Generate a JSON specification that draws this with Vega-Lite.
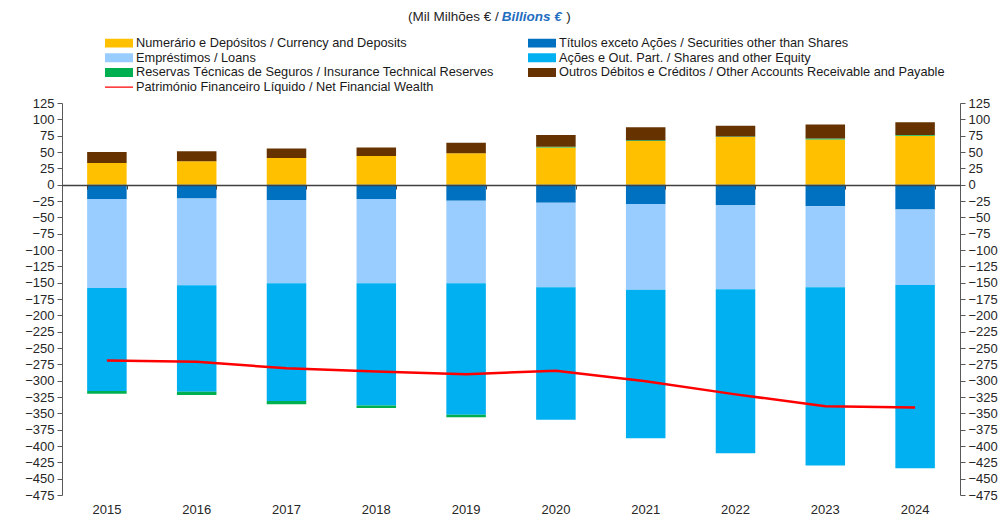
{
  "$schema": "https://vega.github.io/schema/vega-lite/v6.json",
  "width": 898,
  "height": 392,
  "autosize": "none",
  "padding": {"left": 62, "top": 103, "right": 43, "bottom": 20},
  "background": "white",
  "config": {"font": "Liberation Sans", "view": {"stroke": null}},
  "title": {
    "text": "(Mil Milhões € /\u00a0\u00a0\u00a0\u00a0\u00a0\u00a0\u00a0\u00a0\u00a0\u00a0\u00a0\u00a0\u00a0\u00a0\u00a0\u00a0\u00a0\u00a0)",
    "subtitle": "\u200b\u00a0\u00a0\u00a0\u00a0\u00a0\u00a0\u00a0\u00a0\u00a0\u00a0\u00a0\u00a0\u00a0\u00a0\u00a0\u00a0\u00a0\u00a0\u00a0\u00a0\u00a0\u00a0\u00a0\u00a0\u00a0Billions €",
    "anchor": "start",
    "frame": "group",
    "dx": 346,
    "fontSize": 13.5,
    "fontWeight": "normal",
    "color": "#262626",
    "subtitleFontSize": 13.5,
    "subtitleFontWeight": "bold",
    "subtitleFontStyle": "italic",
    "subtitleColor": "#1F6EC0",
    "subtitlePadding": -13.5,
    "offset": 14
  },
  "data": {
    "values": [
      {"year": "2015", "C": 33, "S": -22, "L": -136, "Sh": -158, "R": -4, "O": 17, "NFW": -269},
      {"year": "2016", "C": 36, "S": -21, "L": -133, "Sh": -163, "R": -5, "O": 15, "NFW": -271},
      {"year": "2017", "C": 41, "S": -23.5, "L": -127.5, "Sh": -180, "R": -5, "O": 14.5, "NFW": -281},
      {"year": "2018", "C": 44, "S": -22, "L": -129, "Sh": -187, "R": -4, "O": 13, "NFW": -286},
      {"year": "2019", "C": 48, "S": -24.5, "L": -126.5, "Sh": -201, "R": -4, "O": 16, "NFW": -290},
      {"year": "2020", "C": 57, "S": -27.5, "L": -129.5, "Sh": -203, "R": 1, "O": 18, "NFW": -285},
      {"year": "2021", "C": 67, "S": -29.5, "L": -131.5, "Sh": -227, "R": 1, "O": 20, "NFW": -301},
      {"year": "2022", "C": 73, "S": -31, "L": -129, "Sh": -251, "R": 0.8, "O": 16.2, "NFW": -321},
      {"year": "2023", "C": 69, "S": -33, "L": -124, "Sh": -273, "R": 1.5, "O": 21.5, "NFW": -339},
      {"year": "2024", "C": 75, "S": -38, "L": -115.5, "Sh": -280.5, "R": 1, "O": 19.5, "NFW": -341}
    ]
  },
  "layer": [
    {
      "transform": [
        {"fold": ["C", "S", "L", "Sh", "R", "O"], "as": ["k", "v"]},
        {"calculate": "indexof(['C','S','L','Sh','R','O'], datum.k)", "as": "idx"}
      ],
      "mark": {"type": "bar"},
      "encoding": {
        "x": {
          "field": "year",
          "type": "ordinal",
          "scale": {"paddingInner": 0.56, "paddingOuter": 0.28},
          "axis": {
            "title": null,
            "orient": "bottom",
            "domain": false,
            "ticks": false,
            "labelAngle": 0,
            "labelPadding": 8,
            "labelFontSize": 13,
            "labelColor": "#262626"
          }
        },
        "y": {
          "field": "v",
          "type": "quantitative",
          "stack": "zero",
          "scale": {"domain": [-475, 125], "nice": false, "zero": false},
          "axis": {
            "orient": "left",
            "title": null,
            "grid": false,
            "values": [-475, -450, -425, -400, -375, -350, -325, -300, -275, -250, -225, -200, -175, -150, -125, -100, -75, -50, -25, 0, 25, 50, 75, 100, 125],
            "domainColor": "#595959",
            "tickColor": "#595959",
            "tickSize": 5,
            "labelPadding": 3,
            "labelFontSize": 13,
            "labelColor": "#262626"
          }
        },
        "color": {
          "field": "k",
          "type": "nominal",
          "scale": {
            "domain": ["C", "S", "L", "Sh", "R", "O", "NFW"],
            "range": ["#FFC000", "#0070C0", "#99CCFF", "#00B0F0", "#00B050", "#663300", "#FF0000"]
          },
          "legend": {
            "orient": "none",
            "legendX": 43,
            "legendY": -66,
            "direction": "horizontal",
            "columns": 2,
            "title": null,
            "padding": 0,
            "symbolSize": 784,
            "clipHeight": 12,
            "rowPadding": 1.7,
            "columnPadding": 34,
            "labelFontSize": 12.75,
            "labelLimit": 500,
            "labelColor": "#1a1a1a",
            "labelOffset": 3,
            "symbolStrokeWidth": 0,
            "symbolOpacity": 1,
            "labelExpr": "datum.label === 'C' ? 'Numerário e Depósitos / Currency and Deposits' : datum.label === 'S' ? 'Títulos exceto Ações / Securities other than Shares' : datum.label === 'L' ? 'Empréstimos / Loans' : datum.label === 'Sh' ? 'Ações e Out. Part. / Shares and other Equity' : datum.label === 'R' ? 'Reservas Técnicas de Seguros / Insurance Technical Reserves' : datum.label === 'O' ? 'Outros Débitos e Créditos / Other Accounts Receivable and Payable' : 'Património Financeiro Líquido / Net Financial Wealth'",
            "encode": {
              "symbols": {
                "update": {
                  "shape": {"signal": "datum.value === 'NFW' ? 'M-1,-0.05H1V0.05H-1Z' : 'M-1,-0.32H1V0.32H-1Z'"}
                }
              }
            }
          }
        },
        "order": {"field": "idx", "type": "quantitative"}
      }
    },
    {
      "mark": {"type": "line", "color": "#FF0000", "strokeWidth": 2.5},
      "encoding": {
        "x": {
          "field": "year",
          "type": "ordinal",
          "axis": {
            "title": null,
            "orient": "bottom",
            "offset": -310,
            "labels": false,
            "domain": true,
            "domainColor": "#404040",
            "domainWidth": 1.5,
            "ticks": true,
            "tickBand": "extent",
            "tickSize": 4,
            "tickColor": "#404040",
            "zindex": 1
          }
        },
        "y": {
          "field": "NFW",
          "type": "quantitative",
          "scale": {"domain": [-475, 125], "nice": false, "zero": false},
          "axis": {
            "orient": "right",
            "title": null,
            "grid": false,
            "values": [-475, -450, -425, -400, -375, -350, -325, -300, -275, -250, -225, -200, -175, -150, -125, -100, -75, -50, -25, 0, 25, 50, 75, 100, 125],
            "domainColor": "#595959",
            "tickColor": "#595959",
            "tickSize": 5,
            "labelPadding": 3,
            "labelFontSize": 13,
            "labelColor": "#262626"
          }
        }
      }
    }
  ],
  "resolve": {"axis": {"x": "independent", "y": "independent"}}
}
